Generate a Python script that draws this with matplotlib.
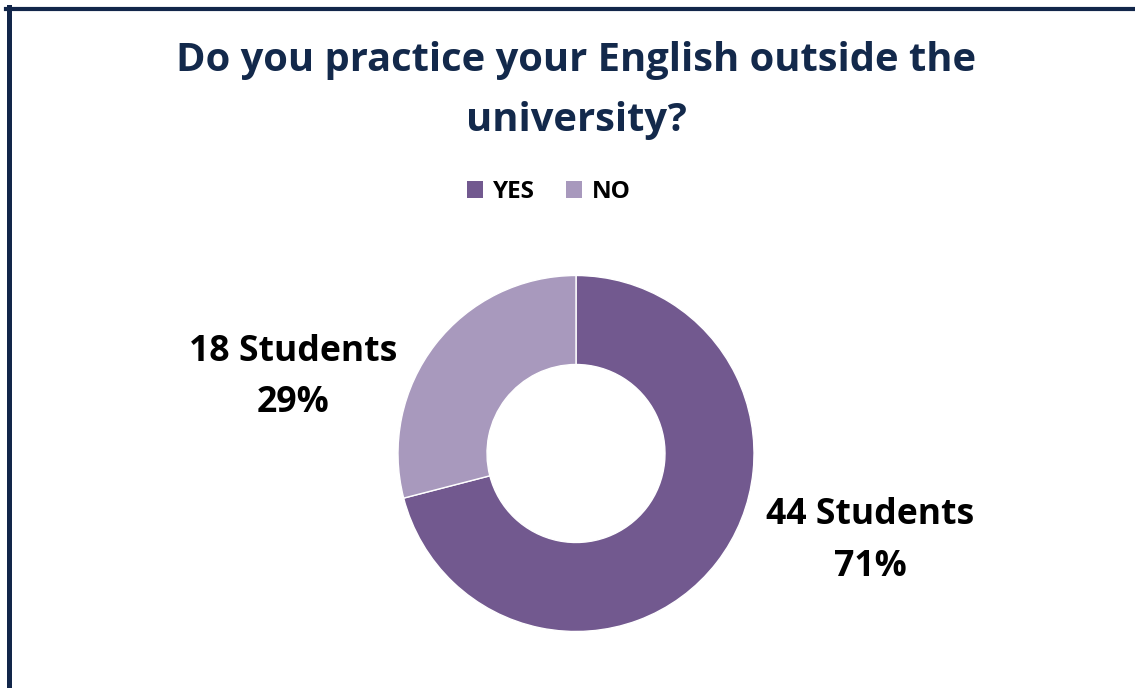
import matplotlib.pyplot as plt
from matplotlib.lines import Line2D
from matplotlib.patches import Patch

labels = ['YES', 'NO']
students = [44, 18]
percent = [71, 29]
colors = ['#72598F', '#A899BD']

W, H = 1135, 688
fig = plt.figure(figsize=(W / 100, H / 100), dpi=100)
fig.patch.set_facecolor('white')
plt.rcParams['font.family'] = ['Open Sans', 'DejaVu Sans']

# frame around the chart (only top and left edges are visible)
navy = '#12264A'
fig.add_artist(Line2D([6 / W, 1], [1 - 8.5 / H, 1 - 8.5 / H], color=navy, lw=3.0,
                      transform=fig.transFigure))
fig.add_artist(Line2D([8.5 / W, 8.5 / W], [0, 1 - 7 / H], color=navy, lw=3.6,
                      transform=fig.transFigure))

# donut
cx, cy, r = 576, 453.5, 178
ax = fig.add_axes([(cx - r) / W, (H - cy - r) / H, 2 * r / W, 2 * r / H])
wedges, _ = ax.pie(students, colors=colors, startangle=90, counterclock=False,
                   radius=1, wedgeprops=dict(width=0.5, edgecolor='white', linewidth=1))
ax.set_xlim(-1, 1)
ax.set_ylim(-1, 1)
ax.axis('off')

# title
fig.text(576 / W, 1 - 60 / H, 'Do you practice your English outside the',
         ha='center', va='center', fontsize=28.7, fontweight='bold', color='#13294B')
fig.text(576 / W, 1 - 120 / H, 'university?',
         ha='center', va='center', fontsize=28.7, fontweight='bold', color='#13294B')

# data labels
lbl_pos = {'NO': (293, 352, 403), 'YES': (870, 515, 567)}
for lab, n, p in zip(labels, students, percent):
    x, y1, y2 = lbl_pos[lab]
    fig.text(x / W, 1 - y1 / H, f'{n} Students', ha='center', va='center',
             fontsize=25.7, fontweight='bold', color='black')
    fig.text(x / W, 1 - y2 / H, f'{p}%', ha='center', va='center',
             fontsize=25.7, fontweight='bold', color='black')

# legend
handles = [Patch(facecolor=c, edgecolor='none') for c in colors]
fig.legend(handles, labels, loc='center', bbox_to_anchor=(549 / W, 1 - 192 / H),
           ncol=2, frameon=False, prop=dict(weight='bold', size=17.5),
           handlelength=0.65, handleheight=0.65, handletextpad=0.4, columnspacing=1.3)

fig.savefig('out.png', dpi=100)
